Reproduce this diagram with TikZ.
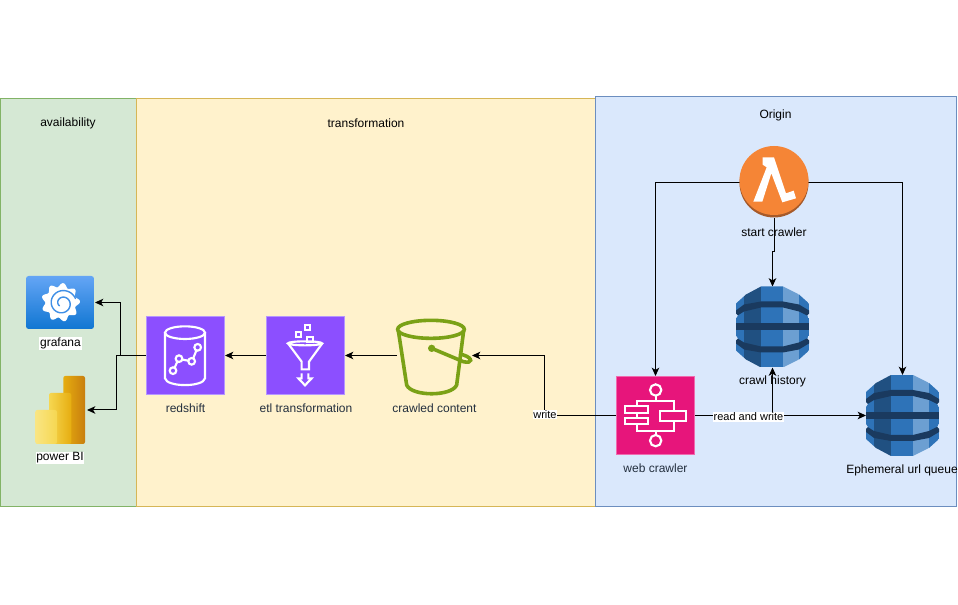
\documentclass[tikz,border=0pt]{standalone}
\usepackage{fontspec}
\setmainfont{Liberation Sans}
\usetikzlibrary{arrows.meta}
\definecolor{gfill}{HTML}{D5E8D4}\definecolor{gline}{HTML}{82B366}
\definecolor{yfill}{HTML}{FFF2CC}\definecolor{yline}{HTML}{D6B656}
\definecolor{bfill}{HTML}{DAE8FC}\definecolor{bline}{HTML}{6C8EBF}
\definecolor{awstext}{HTML}{232F3E}
\definecolor{pinkbox}{HTML}{E7157B}\definecolor{pinkedge}{HTML}{F06AAE}
\definecolor{purplebox}{HTML}{8C4FFF}\definecolor{purpleedge}{HTML}{B596FF}
\definecolor{bucketgreen}{HTML}{7AA116}
\definecolor{ddbdark}{HTML}{205081}\definecolor{ddbmid}{HTML}{2E73B8}
\definecolor{ddblight}{HTML}{6C9FD2}\definecolor{ddbband}{HTML}{1A3A5F}
\definecolor{lamorange}{HTML}{F58536}\definecolor{lamdark}{HTML}{A65A2A}
\definecolor{gratop}{HTML}{64A5F5}\definecolor{grabot}{HTML}{1076D2}\definecolor{graline}{HTML}{3F8FE6}
\definecolor{pbia}{HTML}{F9E583}\definecolor{pbib}{HTML}{F6D751}
\definecolor{pbic}{HTML}{E6AD10}\definecolor{pbid}{HTML}{C87E0E}
\tikzset{
  panel/.style={draw=#1, line width=0.75pt},
  anchorbox/.style 2 args={rectangle, inner sep=0pt, outer sep=0pt, minimum width=#1*0.75pt, minimum height=#2*0.75pt},
  conn/.style={draw=black, line width=0.75pt, -{Stealth[length=6.2pt,width=5.6pt,inset=1.6pt]}},
  lab/.style={font=\fontsize{9pt}{11pt}\selectfont, inner sep=0.6pt, text=black, yshift=-0.75pt},
  awslab/.style={lab, text=awstext},
  whitelab/.style={lab, fill=white},
  edgelab/.style={font=\fontsize{8.25pt}{10pt}\selectfont, fill=white, inner sep=0.6pt, text=black},
  paneltitle/.style={lab},
  zoomed/.style={x=0.25pt, y=-0.25pt},
  wline/.style={draw=white, line width=1.6pt, fill=none},
  iconbox/.style 2 args={fill=#1, draw=#2, line width=0.75pt},
}
\newcommand{\ddbicon}{%
  \begin{scope}
    \clip (25,0)--(47,0)--(63,8)--(73,17)--(73,27)--(71,29)--(73,32)--(73,49)--(71,52)--(73,54)--(73,64)--(63,73)--(47,81)--(25,81)--(10,73)--(0,64)--(0,54)--(2,52)--(0,49)--(0,32)--(2,29)--(0,27)--(0,17)--(10,8)--cycle;
    \fill[ddbmid] (0,0) rectangle (8,81);
    \fill[ddbdark] (8,0) rectangle (25,81);
    \fill[ddbmid] (25,0) rectangle (47,81);
    \fill[ddblight] (47,0) rectangle (63,81);
    \fill[ddbmid] (63,0) rectangle (73,81);
    \fill[ddbband] (0,24)--(8,18)--(25,15)--(47,15)--(63,18)--(73,24)--(73,30)--(63,25)--(47,21)--(25,21)--(8,25)--(0,30)--cycle;
    \fill[ddbband] (0,37) rectangle (73,44);
    \fill[ddbband] (0,57)--(8,63)--(25,66)--(47,66)--(63,63)--(73,57)--(73,51)--(63,56)--(47,60)--(25,60)--(8,56)--(0,51)--cycle;
  \end{scope}}
\begin{document}
\begin{tikzpicture}[x=0.75pt,y=-0.75pt]
\useasboundingbox (0,0) rectangle (958,605);
% panels
\draw[panel=gline, fill=gfill] (0.5,98.5) rectangle (136.5,506.5);
\draw[panel=yline, fill=yfill] (136.5,98.5) rectangle (595.5,506.5);
\draw[panel=bline, fill=bfill] (595.5,96.5) rectangle (956.5,506.5);
\node[paneltitle] (tavail) at (68,122) {availability};
\node[paneltitle] (ttrans) at (366,122) {transformation};
\node[paneltitle] (torig) at (775.5,114) {Origin};

% anchor nodes of the services
\node[anchorbox={68}{72}] (lam) at (774,182.5) {};
\node[anchorbox={73}{81}] (hist) at (772.5,327) {};
\node[anchorbox={73}{81}] (eph) at (902.5,415.5) {};
\node[anchorbox={79}{79}] (web) at (655.5,415.5) {};
\node[anchorbox={75}{79}] (bkt) at (434.5,355.5) {};
\node[anchorbox={79}{79}] (etl) at (305.5,355.5) {};
\node[anchorbox={79}{79}] (red) at (185.5,355.5) {};
\node[anchorbox={69}{53}] (gra) at (60.5,302.5) {};
\node[anchorbox={52}{68}] (pbi) at (61,410) {};
\coordinate (k1) at (774,252);
\coordinate (k2) at (772.5,252);
\coordinate (wr) at (544.5,415.5);
\coordinate (rw) at (772.5,415.5);
\coordinate (rg) at (120.5,355.5);
\coordinate (rp) at (116.5,355.5);

% connectors
\draw[conn] (lam.west) -| (web.north);
\draw[conn] (lam.east) -| (eph.north);
\draw[conn] (lam.south) -- (k1) -- (k2) -- (hist.north);
\draw[conn] (web.east) -- (eph.west);
\draw[conn] (web.east) -- (rw) -- (hist.south);
\draw[conn] (web.west) -- (wr) |- (bkt.east);
\draw[conn] (bkt.west) -- (etl.east);
\draw[conn] (etl.west) -- (red.east);
\draw[conn] (red.west) -- (rg) |- (gra.east);
\draw[conn] (red.west) -- (rp) |- (pbi.east);

% lambda
\fill[lamdark] (774,183) circle[radius=34.5];
\fill[lamorange] (774,180.5) circle[radius=34.5];
\begin{scope}[shift={(600,130)},zoomed]
  \fill[white] (488,82)--(522,82)--(558,190)--(581,182)--(588,205)--(547,217)--(514,130)--(487,215)--(460,215)--(500,112)--(488,104)--cycle;
\end{scope}

% dynamodb
\begin{scope}[shift={(736,286.5)}]\ddbicon\end{scope}
\begin{scope}[shift={(866,375)}]\ddbicon\end{scope}

% web crawler (step functions)
\draw[iconbox={pinkbox}{pinkedge}] (616.5,376.5) rectangle (694.5,454.5);
\begin{scope}[shift={(610,370)},zoomed]
  \draw[wline] (137,60) circle[radius=17];
  \draw[wline] (137,77)--(137,92);
  \draw[wline] (80,108)--(80,92)--(192,92)--(192,122);
  \draw[wline] (45,108) rectangle (113,128);
  \draw[wline] (45,144) rectangle (113,162);
  \draw[wline] (80,128)--(80,144);
  \draw[wline] (150,122) rectangle (228,154);
  \draw[wline] (80,162)--(80,182)--(192,182)--(192,154);
  \draw[wline] (137,182)--(137,196);
  \draw[wline] (137,212) circle[radius=17];
\end{scope}

% bucket
\begin{scope}[shift={(250,300)},zoomed,line width=2.7pt]
  \draw[bucketgreen] (543,88) ellipse[x radius=100, y radius=27];
  \draw[bucketgreen] (445,92)--(470,255) .. controls (485,290) and (605,290) .. (620,255)--(641,92);
  \fill[bucketgreen] (545,145) circle[radius=11];
  \draw[bucketgreen] (545,145)--(640,185) .. controls (668,192) and (670,174) .. (640,165)--(628,160);
\end{scope}

% etl
\draw[iconbox={purplebox}{purpleedge}] (266.5,316.5) rectangle (344.5,394.5);
\begin{scope}[shift={(260,310)},zoomed]
  \draw[wline] (135,44) rectangle (151,60);
  \draw[wline] (107,65) rectangle (123,81);
  \draw[wline] (142,80) rectangle (158,96);
  \draw[wline] (135,100) ellipse[x radius=51, y radius=6];
  \draw[wline] (84,100)--(125,155)--(125,178)--(147,178)--(147,155)--(187,100);
  \draw[wline,line join=miter] (125,190)--(125,205)--(115,205)--(135,226)--(155,205)--(145,205)--(145,190);
\end{scope}

% redshift
\draw[iconbox={purplebox}{purpleedge}] (146.5,316.5) rectangle (224.5,394.5);
\begin{scope}[shift={(140,310)},zoomed]
  \draw[wline] (135,68) ellipse[x radius=60, y radius=19];
  \draw[wline] (75,68)--(75,205) .. controls (80,232) and (190,232) .. (195,205)--(195,68);
  \draw[wline] (104,173)--(112,155);
  \draw[wline] (127,149)--(145,152);
  \draw[wline] (160,144)--(169,122);
  \draw[wline] (99,182) circle[radius=10];
  \draw[wline] (117,146) circle[radius=10];
  \draw[wline] (155,154) circle[radius=10];
  \draw[wline] (173,112) circle[radius=10];
\end{scope}

% grafana
\begin{scope}[shift={(20,270)},zoomed]
  \shade[top color=gratop, bottom color=grabot, rounded corners=2pt] (18,18) rectangle (222,177);
  \fill[white] plot[variable=\t,domain=0:360,samples=145,smooth] ({122+(52+6*cos(9*\t+20))*cos(\t)},{97+(52+6*cos(9*\t+20))*sin(\t)}) -- cycle;
  \draw[graline, line width=1.05pt, line cap=round] plot[variable=\t,domain=0:560,samples=80,smooth] ({127+(42-0.055*\t)*cos(-20-\t)},{100+(42-0.055*\t)*sin(-20-\t)});
\end{scope}

% power bi
\begin{scope}[shift={(0,260)},zoomed]
  \shade[left color=pbic, right color=pbid, rounded corners=1.5pt] (190,348) rectangle (255,552);
  \shade[left color=pbib, right color=pbic, rounded corners=1.5pt] (147,399) rectangle (214,552);
  \shade[left color=pbia, right color=pbib, rounded corners=1.5pt] (106,450) rectangle (171,552);
\end{scope}

% labels
\node[lab] (lamlab) at (774,231) {start crawler};
\node[lab] (histlab) at (772.5,380.5) {crawl history};
\node[lab] (ephlab) at (902,469.5) {Ephemeral url queue};
\node[awslab] (weblab) at (655.5,467) {web crawler};
\node[awslab] (bktlab) at (434.5,407.5) {crawled content};
\node[awslab] (etllab) at (306,407.5) {etl transformation};
\node[awslab] (redlab) at (185.5,407) {redshift};
\node[whitelab] (gralab) at (60.5,342.5) {grafana};
\node[whitelab] (pbilab) at (60,457) {power BI};
\node[edgelab] (writelab) at (545,414.5) {write};
\node[edgelab] (rwlab) at (748.5,417) {read and write};
\end{tikzpicture}
\end{document}
